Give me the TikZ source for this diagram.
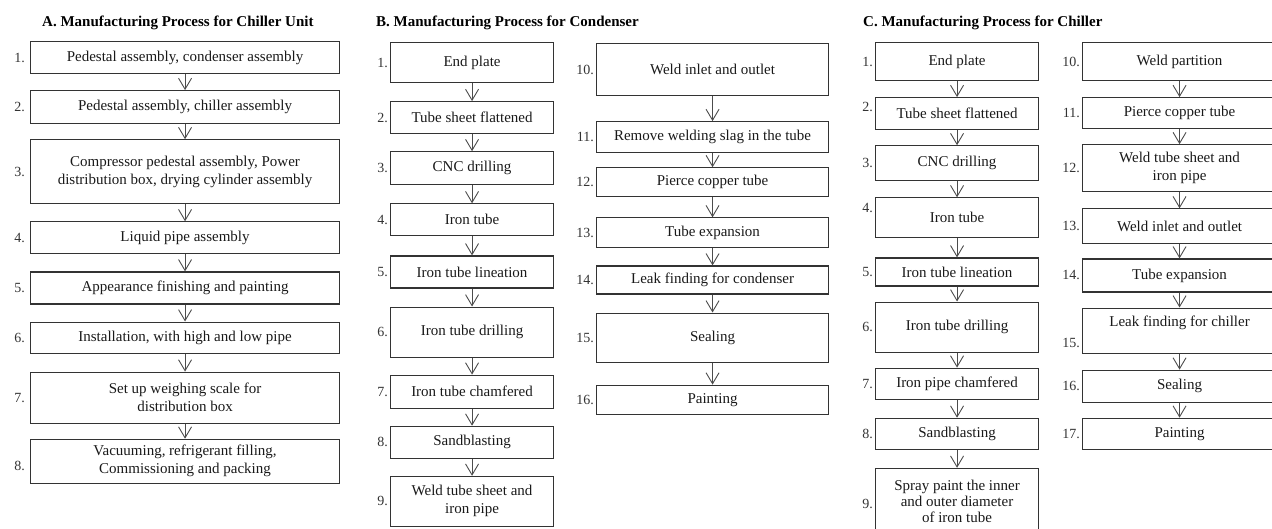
\documentclass[tikz,border=0pt]{standalone}
\usepackage{fontspec}
\setmainfont{Liberation Serif}
\usetikzlibrary{positioning,arrows.meta}

\tikzset{
  stepbox/.style={draw=black!80, line width=1.1pt, align=center, inner sep=2pt,
    font=\fontsize{15}{18}\selectfont, text=black!90},
  boxA/.style={stepbox, minimum width=309pt},
  boxB/.style={stepbox, minimum width=163pt},
  boxBB/.style={stepbox, minimum width=232pt},
  boxC/.style={stepbox, minimum width=163pt},
  boxCC/.style={stepbox, minimum width=194pt},
  num/.style={font=\fontsize{14}{16}\selectfont, inner sep=1pt, text=black!80},
  flow/.style={draw=black!70, line width=0.9pt,
    -{Straight Barb[length=11pt, width=13pt, line width=0.9pt]}},
  heading/.style={font=\bfseries\fontsize{15}{18}\selectfont, anchor=west, inner sep=0pt},
}

\begin{document}
\begin{tikzpicture}[x=1pt, y=-1pt, label distance=1pt]
  \useasboundingbox (0,0) rectangle (1272,528);
  \clip (0,0) rectangle (1272,528);

  % headings
  \node[heading] (titleA) at (42,23) {A. Manufacturing Process for Chiller Unit};
  \node[heading] (titleB) at (376,23) {B. Manufacturing Process for Condenser};
  \node[heading] (titleC) at (863,23) {C. Manufacturing Process for Chiller};

  % A. chiller unit
  \begin{scope}[label distance=4pt]
  \node[boxA, anchor=north west, minimum height=32pt, label={[num]left:1.}] (a1) at (30,41) {Pedestal assembly, condenser assembly};
  \node[boxA, below=16pt of a1, minimum height=33pt, label={[num]left:2.}] (a2) {Pedestal assembly, chiller assembly};
  \node[boxA, below=15pt of a2, minimum height=64pt, label={[num]left:3.}] (a3) {Compressor pedestal assembly, Power\\distribution box, drying cylinder assembly};
  \node[boxA, below=17pt of a3, minimum height=32pt, label={[num]left:4.}] (a4) {Liquid pipe assembly};
  \node[boxA, below=17pt of a4, minimum height=32pt, label={[num]left:5.}] (a5) {Appearance finishing and painting};
  \node[boxA, below=17pt of a5, minimum height=31pt, label={[num]left:6.}] (a6) {Installation, with high and low pipe};
  \node[boxA, below=18pt of a6, minimum height=51pt, label={[num]left:7.}] (a7) {Set up weighing scale for\\distribution box};
  \node[boxA, below=15pt of a7, minimum height=44pt, label={[num, yshift=-5pt]left:8.}] (a8) {Vacuuming, refrigerant filling,\\Commissioning and packing};
  \end{scope}

  % B. condenser
  \node[boxB, anchor=north west, minimum height=40pt, label={[num]left:1.}] (b1) at (390,42) {End plate};
  \node[boxB, below=18pt of b1, minimum height=32pt, label={[num]left:2.}] (b2) {Tube sheet flattened};
  \node[boxB, below=17pt of b2, minimum height=33pt, label={[num]left:3.}] (b3) {CNC drilling};
  \node[boxB, below=18pt of b3, minimum height=32pt, label={[num]left:4.}] (b4) {Iron tube};
  \node[boxB, below=19pt of b4, minimum height=32pt, label={[num]left:5.}] (b5) {Iron tube lineation};
  \node[boxB, below=18pt of b5, minimum height=50pt, label={[num]left:6.}] (b6) {Iron tube drilling};
  \node[boxB, below=17pt of b6, minimum height=33pt, label={[num]left:7.}] (b7) {Iron tube chamfered};
  \node[boxB, below=17pt of b7, minimum height=32pt, label={[num]left:8.}] (b8) {Sandblasting};
  \node[boxB, below=17pt of b8, minimum height=50pt, label={[num]left:9.}] (b9) {Weld tube sheet and\\iron pipe};

  \node[boxBB, anchor=north west, minimum height=52pt, label={[num]left:10.}] (b10) at (596,43) {Weld inlet and outlet};
  \node[boxBB, below=25pt of b10, minimum height=31pt, label={[num]left:11.}] (b11) {Remove welding slag in the tube};
  \node[boxBB, below=14pt of b11, minimum height=29pt, label={[num]left:12.}] (b12) {Pierce copper tube};
  \node[boxBB, below=20pt of b12, minimum height=30pt, label={[num]left:13.}] (b13) {Tube expansion};
  \node[boxBB, below=17pt of b13, minimum height=28pt, label={[num]left:14.}] (b14) {Leak finding for condenser};
  \node[boxBB, below=18pt of b14, minimum height=49pt, label={[num]left:15.}] (b15) {Sealing};
  \node[boxBB, below=22pt of b15, minimum height=29pt, label={[num]left:16.}] (b16) {Painting};

  % C. chiller
  \node[boxC, anchor=north west, minimum height=38pt, label={[num]left:1.}] (c1) at (875,42) {End plate};
  \node[boxC, below=16pt of c1, minimum height=32pt, label={[num, yshift=7pt]left:2.}] (c2) {Tube sheet flattened};
  \node[boxC, below=15pt of c2, minimum height=35pt, label={[num]left:3.}] (c3) {CNC drilling};
  \node[boxC, below=16pt of c3, minimum height=40pt, label={[num, yshift=10pt]left:4.}] (c4) {Iron tube};
  \node[boxC, below=19pt of c4, minimum height=28pt, label={[num]left:5.}] (c5) {Iron tube lineation};
  \node[boxC, below=15pt of c5, minimum height=50pt, label={[num]left:6.}] (c6) {Iron tube drilling};
  \node[boxC, below=15pt of c6, minimum height=31pt, label={[num]left:7.}] (c7) {Iron pipe chamfered};
  \node[boxC, below=18pt of c7, minimum height=31pt, label={[num]left:8.}] (c8) {Sandblasting};
  \node[boxC, below=18pt of c8, minimum height=72pt, font=\fontsize{15}{16}\selectfont, text depth=6pt, label={[num]left:9.}] (c9) {Spray paint the inner\\and outer diameter\\of iron tube};

  \node[boxCC, anchor=north west, minimum height=38pt, label={[num]left:10.}] (c10) at (1082,42) {Weld partition};
  \node[boxCC, below=16pt of c10, minimum height=31pt, label={[num]left:11.}] (c11) {Pierce copper tube};
  \node[boxCC, below=15pt of c11, minimum height=47pt, label={[num]left:12.}] (c12) {Weld tube sheet and\\iron pipe};
  \node[boxCC, below=16pt of c12, minimum height=35pt, label={[num]left:13.}] (c13) {Weld inlet and outlet};
  \node[boxCC, below=14pt of c13, minimum height=33pt, label={[num]left:14.}] (c14) {Tube expansion};
  \node[boxCC, below=15pt of c14, minimum height=45pt, text depth=18pt, label={[num, yshift=-12pt]left:15.}] (c15) {Leak finding for chiller};
  \node[boxCC, below=16pt of c15, minimum height=32pt, label={[num]left:16.}] (c16) {Sealing};
  \node[boxCC, below=15pt of c16, minimum height=31pt, label={[num]left:17.}] (c17) {Painting};

  % arrows
  \draw[flow] (a1) -- (a2);
  \draw[flow] (a2) -- (a3);
  \draw[flow] (a3) -- (a4);
  \draw[flow] (a4) -- (a5);
  \draw[flow] (a5) -- (a6);
  \draw[flow] (a6) -- (a7);
  \draw[flow] (a7) -- (a8);

  \draw[flow] (b1) -- (b2);
  \draw[flow] (b2) -- (b3);
  \draw[flow] (b3) -- (b4);
  \draw[flow] (b4) -- (b5);
  \draw[flow] (b5) -- (b6);
  \draw[flow] (b6) -- (b7);
  \draw[flow] (b7) -- (b8);
  \draw[flow] (b8) -- (b9);
  \draw[flow] (b10) -- (b11);
  \draw[flow] (b11) -- (b12);
  \draw[flow] (b12) -- (b13);
  \draw[flow] (b13) -- (b14);
  \draw[flow] (b14) -- (b15);
  \draw[flow] (b15) -- (b16);

  \draw[flow] (c1) -- (c2);
  \draw[flow] (c2) -- (c3);
  \draw[flow] (c3) -- (c4);
  \draw[flow] (c4) -- (c5);
  \draw[flow] (c5) -- (c6);
  \draw[flow] (c6) -- (c7);
  \draw[flow] (c7) -- (c8);
  \draw[flow] (c8) -- (c9);
  \draw[flow] (c10) -- (c11);
  \draw[flow] (c11) -- (c12);
  \draw[flow] (c12) -- (c13);
  \draw[flow] (c13) -- (c14);
  \draw[flow] (c14) -- (c15);
  \draw[flow] (c15) -- (c16);
  \draw[flow] (c16) -- (c17);
\end{tikzpicture}
\end{document}
